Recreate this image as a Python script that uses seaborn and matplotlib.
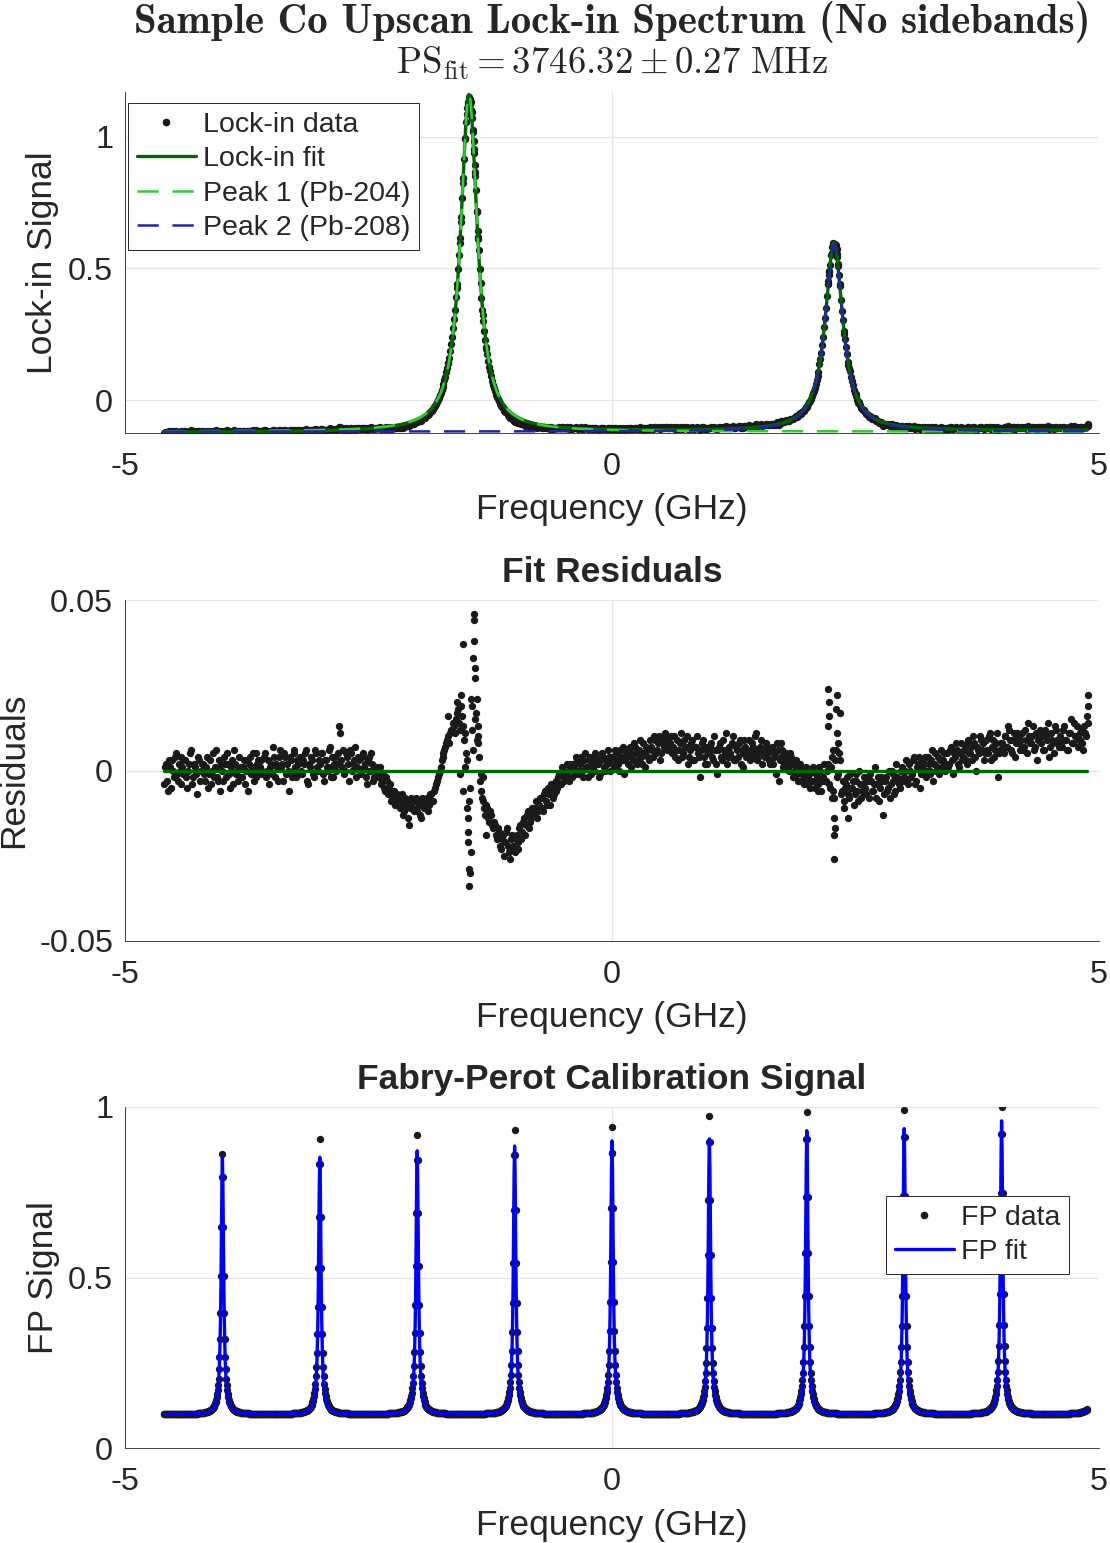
import numpy as np
import pandas as pd
import seaborn as sns
import matplotlib
matplotlib.use("Agg")
import matplotlib.pyplot as plt
from matplotlib.lines import Line2D

# Co upscan: lock-in spectrum, fit residuals and FP calibration

# frequency sample grid (GHz)
f_start, f_stop = -4.60, 4.88
lock_step = 0.02
fp_step = 0.005

# lock-in fit = linear background + two Lorentzians
bg_offset = -0.1196
bg_slope = 0.00085
peak_center = [-1.468, 2.279]
peak_amp = [1.281, 0.713]
peak_hwhm = [0.105, 0.110]
peak_label = ["Peak 1 (Pb-204)", "Peak 2 (Pb-208)"]

# residuals (data - fit), units of 1e-3, on f = -4.60 + 0.02*i
resid_milli = [
    -4, 2, -6, 1, 3, -2, 5, -3, 0, 4,            # -4.60
    -1, 3, -5, 2, 6, -2, 1, -7, 3, 0,            # -4.40
    2, -3, 4, -1, -4, 5, 1, -2, 3, -6,           # -4.20
    0, 4, -2, 2, -5, 3, 6, -1, -3, 1,            # -4.00
    -2, 3, 0, -6, 4, 1, -3, 5, 2, -1,            # -3.80
    3, -1, 5, 0, -4, 2, 7, -2, 1, 4,             # -3.60
    1, -3, 4, 2, -6, 3, 0, 5, -2, 2,             # -3.40
    4, -1, 2, 6, -4, 1, 3, -2, 5, 0,             # -3.20
    2, 5, -3, 3, 0, 7, 1, -2, 4, 2,              # -3.00
    13, 3, 6, 0, 4, -3, 5, 2, 7, 1,              # -2.80
    3, -1, 5, 2, -4, 4, 0, 2, -2, 1,             # -2.60
    -2, 1, -3, -5, -2, -7, -4, -8, -6, -9,       # -2.40
    -8, -11, -7, -12, -9, -10, -16, -8, -11, -9, # -2.20
    -12, -10, -14, -9, -11, -8, -10, -7, -9, -5, # -2.00
    -3, -1, 1, 4, 6, 8, 10, 11, 12, 13,          # -1.80
    15, 18, 12, 16, 9, 5, -14, -30, 19, 44,      # -1.60
    17, 10, -3, -6, -9, -13, -11, -15, -13, -17, # -1.40
    -16, -20, -18, -23, -19, -21, -17, -24, -20, -22,  # -1.20
    -24, -19, -21, -16, -18, -14, -16, -12, -15, -11,  # -1.00
    -13, -9, -12, -8, -11, -7, -9, -5, -10, -6,  # -0.80
    -7, -3, -5, -1, -4, 0, -2, 2, -3, 1,         # -0.60
    2, -1, 3, 0, 4, -2, 5, 1, 3, -1,             # -0.40
    3, 0, 4, 2, -1, 5, 1, 3, 6, 0,               # -0.20
    4, 1, 5, 2, 6, 3, -1, 5, 2, 7,               # 0.00
    5, 3, 7, 2, 6, 4, 8, 1, 6, 3,                # 0.20
    7, 4, 9, 6, 10, 5, 8, 11, 6, 9,              # 0.40
    8, 5, 10, 6, 3, 8, 4, 9, 7, 2,               # 0.60
    6, 9, 3, 7, 5, -2, 8, 4, 6, 2,               # 0.80
    5, 8, 3, 6, -1, 7, 4, 9, 5, 2,               # 1.00
    7, 4, 10, 3, 6, 8, 2, 5, 9, 4,               # 1.20
    6, 3, 8, 5, 11, 4, 7, 2, 6, 8,               # 1.40
    5, 2, 7, 4, -1, 6, 3, 8, 1, 4,               # 1.60
    3, 0, 4, -2, 2, -1, 1, -3, 0, -2,            # 1.80
    -4, -1, -3, 1, -5, -2, -6, 0, -3, 2,         # 2.00
    -3, 2, -5, 4, -8, 6, -1, 3, -6, -9,          # 2.20
    -4, -7, -1, -5, -10, -3, -6, 0, -8, -4,      # 2.40
    -5, -2, -8, -3, -6, 1, -4, -9, -2, -13,      # 2.60
    -3, -6, 0, -4, -1, -7, 2, -3, -5, 1,         # 2.80
    -2, 3, -4, 0, -1, 4, -3, 2, -5, 1,           # 3.00
    2, -2, 4, 0, 3, -3, 5, 1, -1, 6,             # 3.20
    3, 0, 5, 2, 7, -1, 4, 6, 1, 8,               # 3.40
    4, 7, 2, 9, 5, 3, 8, 0, 6, 10,               # 3.60
    6, 3, 9, 5, 11, 7, 4, 8, -2, 6,              # 3.80
    8, 5, 10, 7, 12, 6, 9, 4, 11, 8,             # 4.00
    9, 6, 12, 5, 10, 8, 13, 7, 3, 10,            # 4.20
    8, 11, 6, 10, 14, 7, 9, 5, 12, 8,            # 4.40
    10, 7, 13, 9, 6, 11, 8, 14, 10, 7,           # 4.60
    9, 12, 6, 11, 16,                            # 4.80
]

# interleaved samples, units of 1e-3, on f = -4.59 + 0.02*i
resid2_milli = [
    1, -3, 3, -5, 0, 4, -1, 2, -4, 1,            # -4.59
    3, -2, 0, 5, -4, 2, -1, 4, -3, 2,            # -4.39
    -1, 1, -5, 3, 0, -2, 6, -3, 1, 2,            # -4.19
    -3, 2, 5, -1, 1, -4, 2, 0, 4, -2,            # -3.99
    1, -4, 3, 2, -1, 5, 0, -2, 3, 1,             # -3.79
    0, 4, -2, 3, 1, -1, 4, 2, -3, 6,             # -3.59
    2, 5, -1, 0, 4, -2, 6, 1, 3, -1,             # -3.39
    0, 3, 5, -3, 2, 4, -1, 6, 1, 3,              # -3.19
    5, -1, 3, 1, 6, -2, 4, 2, 0, 5,              # -2.99
    11, 1, -1, 5, 2, 6, 0, 3, -2, 4,             # -2.79
    0, 4, 1, -2, 3, 0, 5, -3, 1, -1,             # -2.59
    0, -4, -1, -6, -3, -5, -9, -6, -10, -7,      # -2.39
    -10, -9, -13, -8, -10, -14, -11, -9, -12, -8,  # -2.19
    -9, -13, -8, -11, -10, -12, -7, -9, -6, -4,  # -1.99
    -2, 0, 3, 5, 7, 9, 8, 12, 14, 11,            # -1.79
    17, 14, 19, 13, 11, 3, -9, -24, 6, 30,       # -1.59
    9, 4, -1, -8, -11, -10, -14, -12, -16, -15,  # -1.39
    -19, -17, -22, -20, -25, -18, -22, -26, -19, -23,  # -1.19
    -20, -23, -17, -20, -15, -19, -13, -17, -14, -12,  # -0.99
    -11, -14, -10, -8, -12, -6, -10, -7, -4, -8, # -0.79
    -5, -6, -2, -4, 1, -3, -1, 0, 2, -2,         # -0.59
    1, 4, -1, 2, 0, 3, 1, -2, 4, 2,              # -0.39
    1, 5, 2, -2, 3, 4, 0, 2, 4, 3,               # -0.19
    2, 6, 3, 0, 4, 7, 3, 4, 6, 1,                # 0.01
    4, 8, 5, 3, 9, 2, 5, 7, 4, 9,                # 0.21
    6, 10, 5, 8, 3, 9, 7, 10, 8, 6,              # 0.41
    10, 7, 4, 9, 6, 11, 5, 7, 10, 4,             # 0.61
    8, 3, 7, 10, 4, 6, 9, 2, 7, 5,               # 0.81
    7, 4, 10, 2, 6, 8, 3, 6, 11, 4,              # 1.01
    5, 8, 3, 7, 4, 9, 6, 1, 7, 5,                # 1.21
    9, 4, 7, 10, 3, 6, 9, 5, 4, 7,               # 1.41
    3, 6, 2, 5, 8, -3, 4, 6, 2, 5,               # 1.61
    1, 5, 2, 0, 3, -3, 2, -1, -4, 1,             # 1.81
    -2, -5, 0, -3, -1, -4, 1, -6, -2, -3,        # 2.01
    0, -4, 1, -6, 3, -2, 5, -7, -3, -5,          # 2.21
    -2, -8, -5, -3, -7, -1, -9, -4, -6, -2,      # 2.41
    -7, -3, -1, -6, -4, -8, -2, -5, -3, -7,      # 2.61
    -2, -5, -8, 0, -3, -6, -2, -4, 0, -3,        # 2.81
    0, -3, 2, -2, 3, -4, 1, 4, -1, 3,            # 3.01
    4, 0, 2, -1, 6, 2, 0, 4, 3, 1,               # 3.21
    5, 2, 1, 6, 3, 5, 8, 2, 5, 3,                # 3.41
    6, 3, 8, 5, 7, 10, 4, 7, 5, 9,               # 3.61
    8, 5, 6, 10, 3, 9, 6, 11, 5, 8,              # 3.81
    6, 10, 7, 13, 9, 5, 11, 8, 10, 6,            # 4.01
    11, 7, 9, 14, 8, 10, 6, 11, 9, 12,           # 4.21
    10, 6, 12, 9, 4, 11, 8, 13, 9, 7,            # 4.41
    8, 12, 9, 6, 11, 15, 8, 10, 13, 9,           # 4.61
    11, 8, 13, 10,                               # 4.81
]

# extra samples on the steep flanks of the peaks and at the scan end
flank_freq = [-1.684, -1.594, -1.553, -1.533, -1.561, -1.530, -1.509, -1.492,
              -1.482, -1.480, -1.471, -1.468, -1.458, -1.447, -1.437, -1.427,
              -1.417, -1.414, -1.407, -1.407, -1.389, -1.376, -1.376, -1.324,
              -1.291,
              2.218, 2.228, 2.228, 2.218, 2.307, 2.300, 2.341, 2.320, 2.310,
              2.283, 2.279, 2.290, 2.279, 2.256, 2.382, 2.423, 2.270,
              4.885, 4.885, 4.882]
flank_milli = [16, 20, 22, 37, -1, -6, 1, -11, -18, -21, -34, -29, -5, 21, 12,
               33, 38, 46, 27, 15, 21, 13, 8, -2, -19,
               24, 20, 16, 13, 22, 18, 17, 8, 11, -26, -19, -17, -14, -8, -11,
               -14, 6,
               22, 19, 14]

# Fabry-Perot comb (1 GHz FSR)
fp_offset = 0.098
fp_center = [-4, -3, -2, -1, 0, 1, 2, 3, 4, 5]
fp_fit_top = [0.852, 0.852, 0.871, 0.885, 0.900, 0.906, 0.930, 0.936, 0.959, 0.960]
fp_data_top = [0.862, 0.905, 0.918, 0.932, 0.940, 0.974, 0.985, 0.990, 1.000, 0.970]
fp_hwhm_fit = 0.015
fp_hwhm_data = 0.016

x_ticks = [-5, 0, 5]
x_ticklabels = ["-5", "0", "5"]
lock_yticks, lock_yticklabels = [0, 0.5, 1], ["0", "0.5", "1"]
res_yticks, res_yticklabels = [-0.05, 0, 0.05], ["-0.05", "0", "0.05"]
fp_yticks, fp_yticklabels = [0, 0.5, 1], ["0", "0.5", "1"]


def lorentz(x, c, a, g):
    return a * g ** 2 / ((x - c) ** 2 + g ** 2)


def lockin_fit(x):
    y = bg_offset + bg_slope * x
    for c, a, g in zip(peak_center, peak_amp, peak_hwhm):
        y = y + lorentz(x, c, a, g)
    return y


def fp_curve(x, tops, g):
    y = np.full_like(x, fp_offset)
    for c, t in zip(fp_center, tops):
        y = y + lorentz(x, c, t - fp_offset, g)
    return y


f_lock = np.linspace(f_start, f_stop, int(round((f_stop - f_start) / lock_step)) + 1)
f_lock2 = f_lock[:-1] + lock_step / 2
f_fine = np.linspace(f_start, f_stop, int(round((f_stop - f_start) / fp_step)) + 1)

f_data = np.concatenate([f_lock, f_lock2, flank_freq])
res_data = np.concatenate([resid_milli, resid2_milli, flank_milli]) * 1e-3
df_lock = pd.DataFrame({"freq": f_data, "resid": res_data,
                        "signal": lockin_fit(f_data) + res_data})
df_fit = pd.DataFrame({"freq": f_fine, "fit": lockin_fit(f_fine),
                       "p1": bg_offset + lorentz(f_fine, peak_center[0], peak_amp[0], peak_hwhm[0]),
                       "p2": bg_offset + lorentz(f_fine, peak_center[1], peak_amp[1], peak_hwhm[1]),
                       "fp_fit": fp_curve(f_fine, fp_fit_top, fp_hwhm_fit),
                       "fp_data": fp_curve(f_fine, fp_data_top, fp_hwhm_data)})

sns.set_theme(style="white")
plt.rcParams["font.family"] = ["Liberation Sans", "DejaVu Sans"]
plt.rcParams["axes.unicode_minus"] = False

axis_c = "#262626"
grid_c = "#e4e4e4"
fit_c = "#006600"
p1_c = "#33cc33"
p2_c = "#2323a6"
fp_c = "#0000ff"
dash = (0, (8.5, 5.5))
dot_s = 28

fig = plt.figure(figsize=(11.1, 15.43), dpi=100)
W, H = 1110, 1543
ax_l, ax_w, ax_h = 125 / W, 974 / W, 341 / H
ax1 = fig.add_axes([ax_l, 1 - 433 / H, ax_w, ax_h])
ax2 = fig.add_axes([ax_l, 1 - 941 / H, ax_w, ax_h])
ax3 = fig.add_axes([ax_l, 1 - 1448 / H, ax_w, ax_h])


def style_axis(ax, yticks, ylabels, ylim, ylabel, ylabel_x):
    ax.set_xlim(-5, 5)
    ax.set_ylim(*ylim)
    ax.set_xticks(x_ticks)
    ax.set_xticklabels(x_ticklabels)
    ax.set_yticks(yticks)
    ax.set_yticklabels(ylabels)
    ax.grid(True, color=grid_c, lw=0.9)
    ax.set_axisbelow(True)
    for s in ["top", "right"]:
        ax.spines[s].set_visible(False)
    for s in ["left", "bottom"]:
        ax.spines[s].set_color(axis_c)
        ax.spines[s].set_linewidth(0.6)
    ax.tick_params(direction="in", length=7, width=0.6, color=axis_c,
                   labelcolor=axis_c, labelsize=23.3)
    ax.tick_params(axis="x", pad=13.5)
    ax.tick_params(axis="y", pad=8.5)
    ax.set_xlabel("Frequency (GHz)", fontsize=25.5, color=axis_c, va="center")
    ax.xaxis.set_label_coords(0.5, -77 / 341)
    ax.set_ylabel(ylabel, fontsize=25.5, color=axis_c, va="center")
    ax.yaxis.set_label_coords(ylabel_x, 0.5)


leg_kw = dict(borderaxespad=0, fontsize=20.5, frameon=True, fancybox=False,
              edgecolor=axis_c, framealpha=1, handlelength=2.1,
              handletextpad=0.22, labelspacing=0.3, borderpad=0.3)

# --- lock-in spectrum
sns.scatterplot(data=df_lock, x="freq", y="signal", ax=ax1, color="k", s=dot_s,
                linewidth=0, zorder=2, legend=False)
sns.lineplot(data=df_fit, x="freq", y="fit", ax=ax1, color=fit_c, lw=2.4,
             sort=False, estimator=None, zorder=3)
sns.lineplot(data=df_fit, x="freq", y="p1", ax=ax1, color=p1_c, lw=1.8,
             linestyle=dash, sort=False, estimator=None, zorder=4)
sns.lineplot(data=df_fit, x="freq", y="p2", ax=ax1, color=p2_c, lw=1.8,
             linestyle=dash, sort=False, estimator=None, zorder=5)
style_axis(ax1, lock_yticks, lock_yticklabels, (-0.125, 1.17), "Lock-in Signal", (43 - 125) / 974)

handles1 = [Line2D([], [], ls="none", marker="o", ms=5.5, mew=0, color="k"),
            Line2D([], [], color=fit_c, lw=2.4),
            Line2D([], [], color=p1_c, lw=1.8, ls=dash),
            Line2D([], [], color=p2_c, lw=1.8, ls=dash)]
leg1 = ax1.legend(handles1, ["Lock-in data", "Lock-in fit"] + peak_label,
                  loc="upper left", bbox_to_anchor=(128 / W, 1 - 103 / H),
                  bbox_transform=fig.transFigure, **leg_kw)
leg1.get_frame().set_linewidth(0.7)

# --- residuals
sns.scatterplot(data=df_lock, x="freq", y="resid", ax=ax2, color="k", s=dot_s,
                linewidth=0, zorder=2, legend=False)
sns.lineplot(x=[f_start, f_stop], y=[0, 0], ax=ax2, color=fit_c, lw=2.4, zorder=3)
style_axis(ax2, res_yticks, res_yticklabels, (-0.05, 0.05), "Residuals", (13.5 - 125) / 974)
ax2.set_title("Fit Residuals", fontsize=25.5, fontweight="bold", y=1 + 27 / 341,
              va="center", pad=0)

# --- Fabry-Perot
sns.scatterplot(data=df_fit, x="freq", y="fp_data", ax=ax3, color="k", s=dot_s,
                linewidth=0, zorder=2, legend=False)
sns.lineplot(data=df_fit, x="freq", y="fp_fit", ax=ax3, color=fp_c, lw=2.4,
             sort=False, estimator=None, zorder=3)
style_axis(ax3, fp_yticks, fp_yticklabels, (0, 1), "FP Signal", (43 - 125) / 974)
ax3.set_title("Fabry-Perot Calibration Signal", fontsize=25.5, fontweight="bold",
              y=1 + 27 / 341, va="center", pad=0)
handles3 = [Line2D([], [], ls="none", marker="o", ms=5.5, mew=0, color="k"),
            Line2D([], [], color=fp_c, lw=2.4)]
leg3 = ax3.legend(handles3, ["FP data", "FP fit"], loc="upper left",
                  bbox_to_anchor=(886 / W, 1 - 1196 / H), bbox_transform=fig.transFigure,
                  **leg_kw)
leg3.get_frame().set_linewidth(0.7)
leg3.set_zorder(10)

# --- two-line LaTeX-style title
fig.text(612 / W, 1 - 33 / H, "Sample Co Upscan Lock-in Spectrum (No sidebands)",
         family="cmb10", fontsize=29.5, ha="center", va="baseline")
fig.text(612 / W, 1 - 74 / H, r"$\mathrm{PS}_{\mathrm{fit}} = 3746.32 \pm 0.27\ \mathrm{MHz}$",
         math_fontfamily="cm", fontsize=26.5, ha="center", va="baseline")

fig.savefig("out.png", dpi=100)
